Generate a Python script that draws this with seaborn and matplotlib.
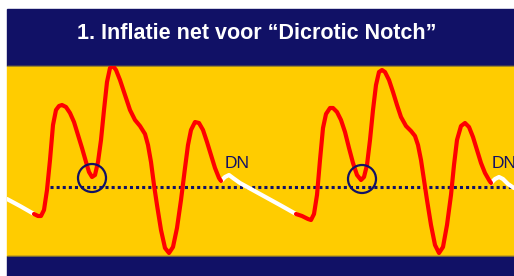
import matplotlib
matplotlib.use("Agg")
import matplotlib.pyplot as plt
from matplotlib.patches import Rectangle, Circle
import seaborn as sns
import pandas as pd

# ---- data (pixel-space readings of the schematic pressure waveform) ----
white1_x = [7, 20, 34]
white1_y = [199, 206, 214]
red1_x = [34, 38, 41, 44, 47, 50, 53, 56, 59, 62, 66, 70, 74, 78, 82, 86, 89, 92, 95, 98,
          101, 104, 107, 110, 113, 116, 120, 125, 130, 135, 140, 145, 148, 151, 154, 157,
          161, 165, 169, 173, 177, 181, 185, 188, 191, 195, 199, 203, 207, 211, 215, 219, 221]
red1_y = [214, 216, 216, 210, 190, 160, 125, 110, 106, 105, 107, 113, 122, 135, 148, 162, 172,
          177, 175, 162, 140, 110, 82, 68, 66, 70, 80, 95, 110, 120, 126, 134, 145, 162, 185,
          205, 230, 248, 253, 247, 228, 200, 168, 145, 130, 122, 123, 130, 142, 155, 168, 178, 181]
white2_x = [221, 225, 229, 233, 240, 260, 280, 296]
white2_y = [181, 177, 175, 178, 183, 194, 205, 214]
red2_x = [296, 302, 308, 311, 314, 317, 320, 323, 326, 330, 333, 337, 341, 345, 349, 353, 357,
          361, 364, 367, 370, 373, 376, 379, 382, 385, 389, 393, 397, 401, 406, 411, 415, 418,
          421, 424, 427, 431, 435, 439, 443, 447, 451, 454, 457, 461, 465, 469, 473, 477, 481,
          485, 489, 491]
red2_y = [214, 216, 219, 220, 214, 195, 160, 128, 114, 108, 108, 112, 120, 132, 148, 163, 175,
          180, 177, 165, 140, 110, 85, 72, 70, 72, 80, 92, 105, 117, 126, 131, 136, 145, 160,
          180, 200, 225, 245, 253, 247, 225, 195, 165, 140, 126, 123, 127, 137, 150, 163, 173,
          180, 183]
white3_x = [491, 495, 499, 503, 508, 514]
white3_y = [183, 179, 177, 179, 184, 188]
baseline_x = [50, 514]
baseline_y = [187, 187]
notch_x = [92, 362]
notch_y = [178, 179]
dn_x = [225, 492]
dn_y = [168, 168]
dn_label = "DN"
title = "1. Inflatie net voor \u201cDicrotic Notch\u201d"

NAVY = "#111166"
GOLD = "#FFCC00"

fig = plt.figure(figsize=(5.14, 2.76), dpi=100)
fig.patch.set_facecolor("white")
ax = fig.add_axes([0, 0, 1, 1])
ax.set_xlim(0, 514)
ax.set_ylim(276, 0)
ax.axis("off")

ax.add_patch(Rectangle((7, 9), 507, 57, color=NAVY, zorder=0))
ax.add_patch(Rectangle((7, 66), 507, 190, color=GOLD, zorder=0))
ax.add_patch(Rectangle((7, 256), 507, 20, color=NAVY, zorder=0))
ax.plot([7, 514], [66, 66], color="#8a7a30", lw=0.6, zorder=1)
ax.plot([7, 514], [256, 256], color="#8a7a30", lw=0.6, zorder=1)

clip = Rectangle((7, 66), 507, 190, transform=ax.transData)

# dotted baseline
sns.lineplot(x=baseline_x, y=baseline_y, ax=ax, color=NAVY, lw=2.2, sort=False)
ln = ax.lines[-1]
ln.set_linestyle((0, (1, 1)))
ln.set_dash_capstyle("butt")
ln.set_zorder(2)

def draw(xs, ys, color, z):
    df = pd.DataFrame({"x": xs, "y": ys})
    sns.lineplot(data=df, x="x", y="y", ax=ax, color=color, lw=3.0, sort=False,
                 estimator=None)
    l = ax.lines[-1]
    l.set_solid_joinstyle("round")
    l.set_solid_capstyle("round")
    l.set_zorder(z)
    l.set_clip_path(clip)

draw(white1_x, white1_y, "white", 3)
draw(white2_x, white2_y, "white", 3)
draw(white3_x, white3_y, "white", 3)
draw(red1_x, red1_y, "#FF0000", 4)
draw(red2_x, red2_y, "#FF0000", 4)

for cx, cy in zip(notch_x, notch_y):
    ax.add_patch(Circle((cx, cy), 14, fill=False, ec=NAVY, lw=1.6, zorder=5))

for tx, ty in zip(dn_x, dn_y):
    ax.text(tx, ty, dn_label, color=NAVY, fontsize=12.5, family="Liberation Sans",
            ha="left", va="baseline", zorder=6, clip_on=True)

ax.text(257, 39, title, color="white", fontsize=15.5, fontweight="bold",
        family="Liberation Sans", ha="center", va="baseline", zorder=6)

ax.set_xlabel("")
ax.set_ylabel("")
fig.savefig("out.png", dpi=100)
